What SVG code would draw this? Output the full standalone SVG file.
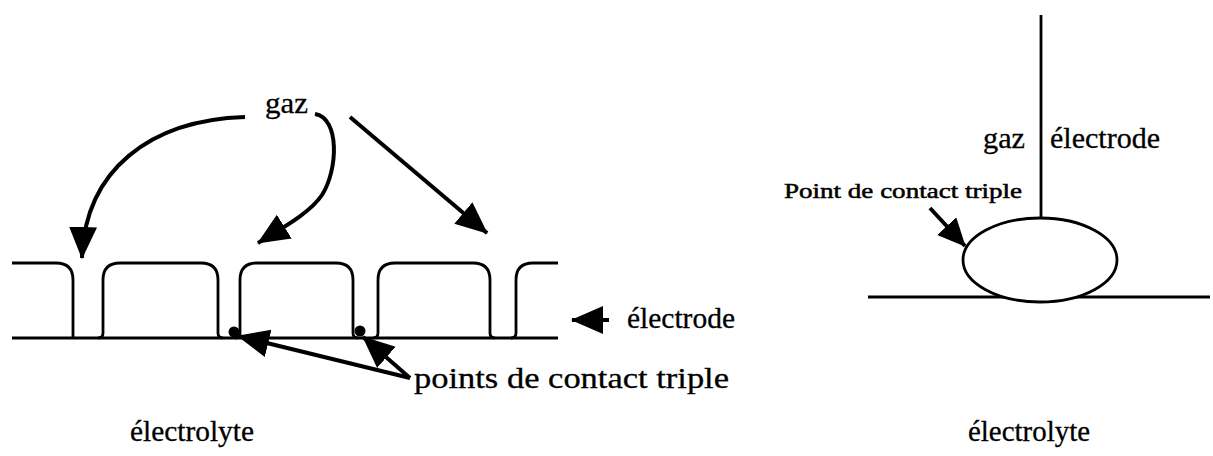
<svg xmlns="http://www.w3.org/2000/svg" width="1213" height="456" viewBox="0 0 1213 456">
<style>
.ln{fill:none;stroke:#000;stroke-width:2.8}
.ar{fill:none;stroke:#000;stroke-width:4}
.t{font-family:"Liberation Serif","Times New Roman",serif;font-size:29px;fill:#000;stroke:#000;stroke-width:0.3}
.ts{font-family:"Liberation Serif","Times New Roman",serif;font-size:21px;fill:#000;stroke:#000;stroke-width:0.5}
</style>
<defs>
<marker id="ah" markerUnits="userSpaceOnUse" markerWidth="34" markerHeight="30" refX="31" refY="14" orient="auto">
<path d="M0,0 L32,14 L0,28 Z" fill="#000"/>
</marker>
<marker id="ahs" markerUnits="userSpaceOnUse" markerWidth="30" markerHeight="28" refX="27" refY="13" orient="auto">
<path d="M0,0 L28,13 L0,26 Z" fill="#000"/>
</marker>
</defs>
<g id="electrode-left">
<path class="ln" d="M12,338 L558,338"/>
<path class="ln" d="M12,263 L56,263 Q73,263 73,280 L73,338"/>
<path class="ln" d="M98,338 Q103,338 103,333 L103,280 Q103,263 120,263 L201,263 Q218,263 218,280 L218,333 Q218,338 223,338"/>
<path class="ln" d="M235,338 Q240,338 240,333 L240,280 Q240,263 257,263 L336,263 Q353,263 353,280 L353,333 Q353,338 358,338"/>
<path class="ln" d="M373,338 Q378,338 378,333 L378,280 Q378,263 395,263 L473,263 Q490,263 490,280 L490,333 Q490,338 495,338"/>
<path class="ln" d="M511,338 Q516,338 516,333 L516,280 Q516,263 533,263 L558,263"/>
<circle cx="234" cy="332" r="5.5" fill="#000"/>
<circle cx="360" cy="331" r="5.5" fill="#000"/>
</g>
<g id="right-diagram">
<line class="ln" x1="1041" y1="15" x2="1041" y2="218"/>
<line class="ln" x1="868" y1="297" x2="1210" y2="297"/>
<ellipse cx="1040" cy="260" rx="77" ry="42" fill="#fff" stroke="#000" stroke-width="2.8"/>
</g>
<g id="connectors">
<path class="ar" d="M245,117 C150,120 85,170 82,258" marker-end="url(#ah)"/>
<path class="ar" d="M315,114 C340,118 338,170 322,195 C310,213 282,228 258,243" marker-end="url(#ah)"/>
<path class="ar" d="M350,117 L487,233" marker-end="url(#ah)"/>
<path class="ar" d="M609,320 L572,320" marker-end="url(#ah)"/>
<path class="ar" d="M410,378 L238,336" marker-end="url(#ah)"/>
<path class="ar" d="M410,378 L363,337" marker-end="url(#ah)"/>
<path class="ar" d="M930,208 L965,246" marker-end="url(#ahs)"/>
</g>
<g id="labels">
<text class="t" x="265" y="113" textLength="43" lengthAdjust="spacingAndGlyphs">gaz</text>
<text class="t" x="627" y="328" textLength="108" lengthAdjust="spacingAndGlyphs">électrode</text>
<text class="t" x="414" y="388" textLength="315" lengthAdjust="spacingAndGlyphs">points de contact triple</text>
<text class="t" x="130" y="441" textLength="124" lengthAdjust="spacingAndGlyphs">électrolyte</text>
<text class="t" x="968" y="441" textLength="122" lengthAdjust="spacingAndGlyphs">électrolyte</text>
<text class="t" x="983" y="148" textLength="42" lengthAdjust="spacingAndGlyphs">gaz</text>
<text class="t" x="1050" y="148" textLength="110" lengthAdjust="spacingAndGlyphs">électrode</text>
<text class="ts" x="784" y="198" textLength="238" lengthAdjust="spacingAndGlyphs">Point de contact triple</text>
</g>
</svg>
